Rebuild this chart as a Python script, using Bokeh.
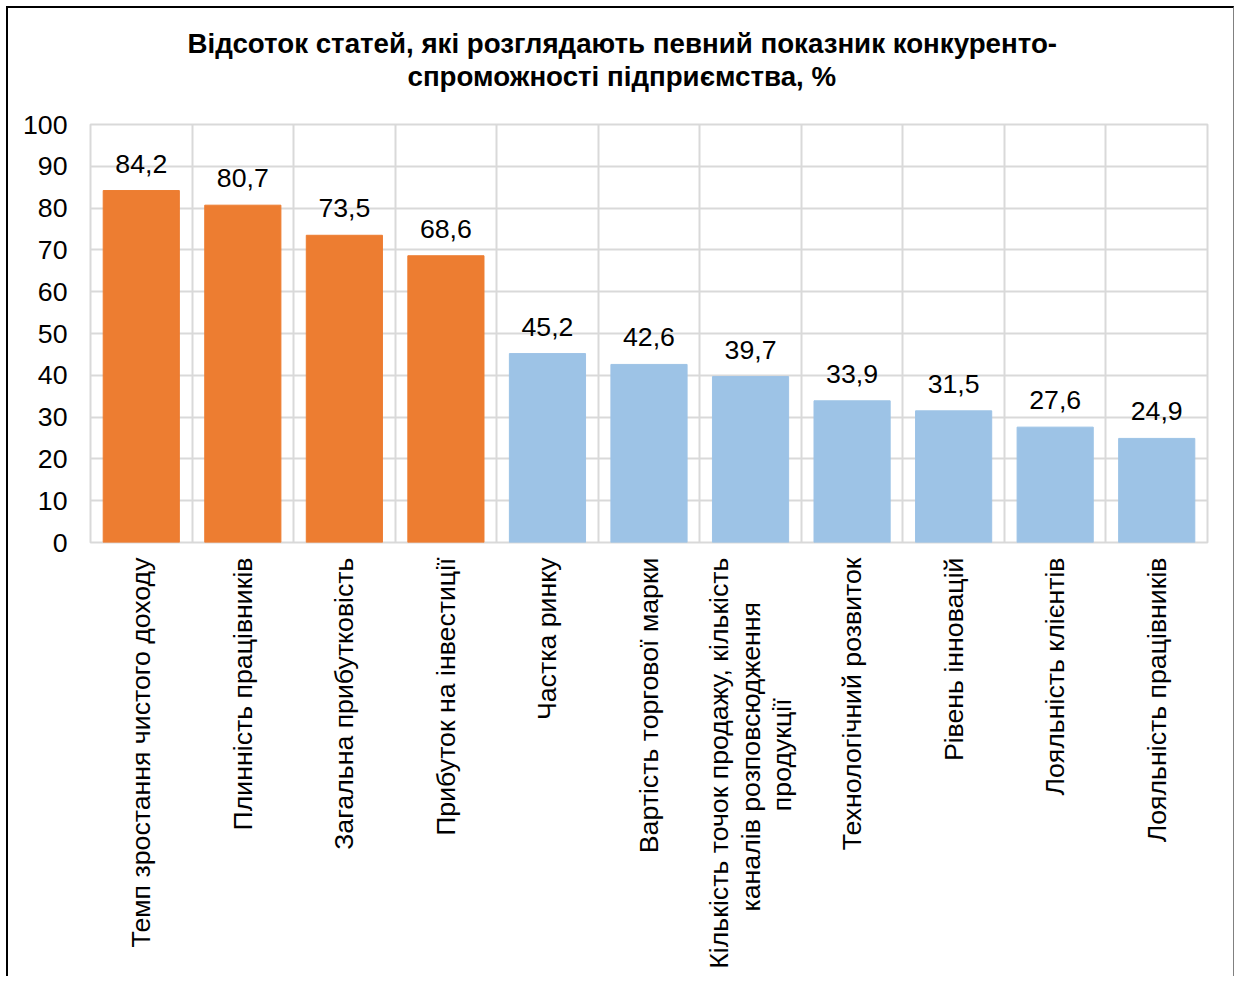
import math
from bokeh.plotting import figure
from bokeh.models import ColumnDataSource, Range1d, FixedTicker, LabelSet, Title
from bokeh.core.properties import value
from bokeh.embed import file_html
from bokeh.resources import INLINE

NB = "\u00a0"
categories = [
    "Темп зростання чистого доходу",
    "Плинність працівників",
    "Загальна прибутковість",
    "Прибуток на інвестиції",
    "Частка ринку",
    "Вартість торгової марки",
    "Кількість точок продажу, кількість\nканалів розповсюдження" + NB * 6 + "\nпродукції" + NB * 19,
    "Технологічний розвиток",
    "Рівень інновацій",
    "Лояльність клієнтів",
    "Лояльність працівників",
]
values = [84.2, 80.7, 73.5, 68.6, 45.2, 42.6, 39.7, 33.9, 31.5, 27.6, 24.9]
groups = ["top", "top", "top", "top", "rest", "rest", "rest", "rest", "rest", "rest", "rest"]
y_ticks = [0, 10, 20, 30, 40, 50, 60, 70, 80, 90, 100]
title_lines = [
    "Відсоток статей, які розглядають певний показник конкуренто-",
    "спроможності підприємства, %",
]

FONT = "Liberation Sans"
FS = "26.7px"
TFS = "27.7px"
ORANGE = "#ED7D31"
BLUE = "#9DC3E6"
GRID = "#D9D9D9"

n = len(categories)
xs = [i + 0.5 for i in range(n)]
colors = [ORANGE if g == "top" else BLUE for g in groups]
labels = [f"{v:.1f}".replace(".", ",") for v in values]

src = ColumnDataSource(dict(x=xs, top=values, color=colors, label=labels))

p = figure(
    width=1228, height=970,
    x_range=Range1d(0, n), y_range=Range1d(0, 100),
    output_backend="svg", toolbar_location=None,
    min_border_left=82, min_border_right=29,
    min_border_top=116, min_border_bottom=436,
)
p.title = None
# blank spacer between the title and the plot area
t0 = Title(text=NB, align="left", standoff=0,
           text_font=FONT, text_font_size=TFS, text_font_style="bold",
           text_color="#000000")
t2 = Title(text=title_lines[1], align="left", offset=317, standoff=0,
           text_font=FONT, text_font_size=TFS, text_font_style="bold",
           text_color="#000000")
t1 = Title(text=title_lines[0], align="left", offset=97, standoff=0,
           text_font=FONT, text_font_size=TFS, text_font_style="bold",
           text_color="#000000")
p.add_layout(t0, "above")
p.add_layout(t2, "above")
p.add_layout(t1, "above")

p.outline_line_color = GRID
p.outline_line_width = 2
p.background_fill_color = "white"
p.border_fill_color = "white"

p.vbar(x="x", top="top", bottom=0, width=0.75, color="color", source=src)

# grid
p.xgrid.ticker = FixedTicker(ticks=list(range(n + 1)))
p.xgrid.grid_line_color = GRID
p.xgrid.grid_line_width = 2
p.ygrid.ticker = FixedTicker(ticks=y_ticks)
p.ygrid.grid_line_color = GRID
p.ygrid.grid_line_width = 2

# category axis
xa = p.xaxis[0]
xa.ticker = FixedTicker(ticks=xs)
xa.major_label_overrides = {x: c for x, c in zip(xs, categories)}
xa.major_label_orientation = math.pi / 2
xa.axis_line_color = None
xa.major_tick_line_color = None
xa.minor_tick_line_color = None
xa.major_label_text_font = FONT
xa.major_label_text_font_size = FS
xa.major_label_text_color = "#000000"
xa.major_label_text_line_height = 1.05
xa.major_label_standoff = 9

ax = p.yaxis[0]
ax.ticker = FixedTicker(ticks=y_ticks)
ax.axis_line_color = None
ax.major_tick_line_color = None
ax.minor_tick_line_color = None
ax.major_label_text_font = FONT
ax.major_label_text_font_size = FS
ax.major_label_text_color = "#000000"
ax.major_label_standoff = 17

# value labels
p.add_layout(LabelSet(x="x", y="top", text="label", source=src,
                      text_align="center", text_baseline="bottom", y_offset=18,
                      text_font=value(FONT), text_font_size=value(FS),
                      text_color="#000000"))

p.styles = {"margin-left": "6px", "margin-top": "6px",
            "border-left": "2px solid #000000", "border-top": "2px solid #000000",
            "border-right": "1px solid #808080"}

open("out.html", "w").write(file_html(p, INLINE))
